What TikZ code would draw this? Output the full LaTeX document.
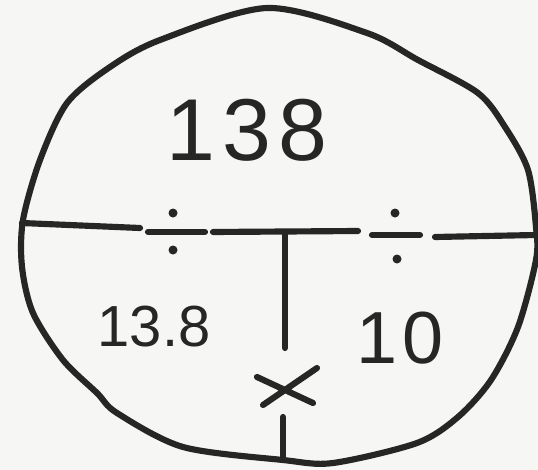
\documentclass[tikz,border=0pt]{standalone}
\usepackage{fontspec}
\setmainfont{Liberation Sans}
\definecolor{paper}{RGB}{246,246,244}
\definecolor{ink}{RGB}{38,38,36}
\begin{document}
\begin{tikzpicture}[x=0.02cm,y=-0.02cm,
    pen/.style={ink, line width=3.5pt, line cap=round, line join=round},
    every node/.style={ink, inner sep=0pt}]
  \useasboundingbox[fill=paper] (0,0) rectangle (538,470);
  % Circle
  \draw[pen] plot[smooth cycle, tension=0.5] coordinates {
    (267,8) (367,33) (418,60) (478,93) (505,127) (528,170) (536,227)
    (536,260) (518,327) (491,380) (458,417) (417,443) (333,463) (283,460)
    (183,447) (117,413) (97,393) (63,360) (33,313) (22,267) (23,220)
    (40,160) (67,103) (110,67) (160,40)};
  % Dividing line with the two division signs
  \draw[pen] (22,223) -- (140,228);
  \draw[pen] (148,232) -- (205,232);
  \fill[ink] (173,213) circle (4.5) (173,250) circle (4.5);
  \draw[pen] (213,232) -- (358,231);
  \draw[pen] (372,235) -- (420,235);
  \fill[ink] (395,213) circle (4.5) (397,259) circle (4.5);
  \draw[pen] (435,237) -- (536,235);
  % Vertical line
  \draw[pen] (285,232) -- (285,348);
  % Times sign and stub
  \coordinate (times) at (287,387);
  \draw[pen] (257,377) -- (313,403) (263,405) -- (317,368);
  \draw[pen] (283,417) -- (283,460);
  % Numbers
  \node[font=\fontsize{50}{50}\selectfont] (total) at (247,130) {1\kern4pt3\kern4pt8};
  \node[font=\fontsize{33}{33}\selectfont] (left) at (154,327) {13.8};
  \node[font=\fontsize{42}{42}\selectfont] (right) at (400,338) {1\kern3pt0};
\end{tikzpicture}
\end{document}
